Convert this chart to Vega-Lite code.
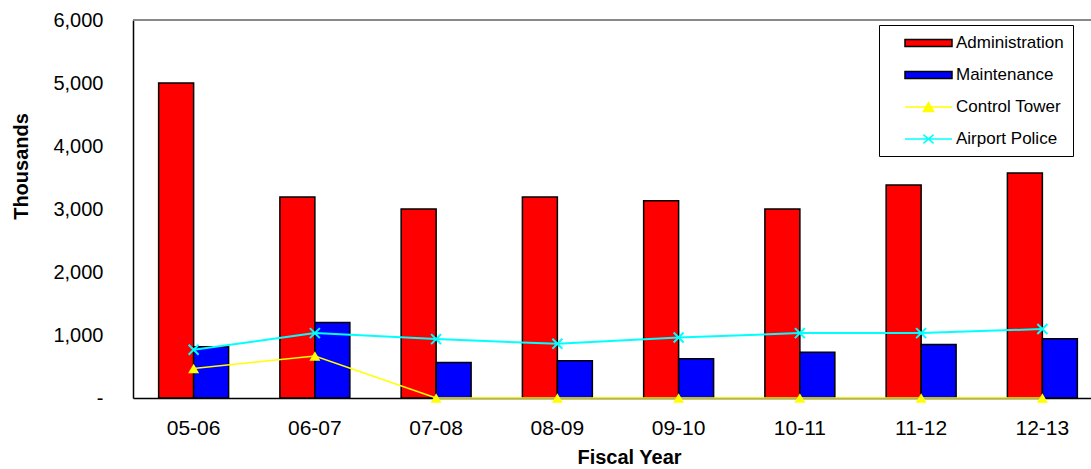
{
  "$schema": "https://vega.github.io/schema/vega-lite/v6.json",
  "autosize": "none",
  "padding": {"left": 133, "top": 20, "right": 0, "bottom": 71},
  "width": 958,
  "height": 378,
  "config": {
    "font": "Liberation Sans",
    "view": {"stroke": null},
    "axis": {"labelFont": "Liberation Sans", "titleFont": "Liberation Sans", "labelColor": "black", "titleColor": "black", "domainColor": "black", "domainWidth": 1.5, "ticks": false, "tickSize": 0, "grid": false},
    "legend": {"orient": "none", "legendX": 746, "legendY": 5, "padding": 9, "strokeColor": "black", "fillColor": "white", "symbolSize": 256, "symbolStrokeWidth": 1.5, "symbolOpacity": 1, "labelFontSize": 17, "labelFont": "Liberation Sans", "labelColor": "black", "labelOffset": 50, "rowPadding": 15}
  },
  "data": {
    "values": [
      {"year": "05-06", "series": "Administration", "value": 5000},
      {"year": "06-07", "series": "Administration", "value": 3190},
      {"year": "07-08", "series": "Administration", "value": 3000},
      {"year": "08-09", "series": "Administration", "value": 3190},
      {"year": "09-10", "series": "Administration", "value": 3130},
      {"year": "10-11", "series": "Administration", "value": 3000},
      {"year": "11-12", "series": "Administration", "value": 3380},
      {"year": "12-13", "series": "Administration", "value": 3570},
      {"year": "05-06", "series": "Maintenance", "value": 815},
      {"year": "06-07", "series": "Maintenance", "value": 1200},
      {"year": "07-08", "series": "Maintenance", "value": 565},
      {"year": "08-09", "series": "Maintenance", "value": 590},
      {"year": "09-10", "series": "Maintenance", "value": 625},
      {"year": "10-11", "series": "Maintenance", "value": 725},
      {"year": "11-12", "series": "Maintenance", "value": 850},
      {"year": "12-13", "series": "Maintenance", "value": 940},
      {"year": "05-06", "series": "Control Tower", "value": 470},
      {"year": "06-07", "series": "Control Tower", "value": 665},
      {"year": "07-08", "series": "Control Tower", "value": 0},
      {"year": "08-09", "series": "Control Tower", "value": 0},
      {"year": "09-10", "series": "Control Tower", "value": 0},
      {"year": "10-11", "series": "Control Tower", "value": 0},
      {"year": "11-12", "series": "Control Tower", "value": 0},
      {"year": "12-13", "series": "Control Tower", "value": 0},
      {"year": "05-06", "series": "Airport Police", "value": 765},
      {"year": "06-07", "series": "Airport Police", "value": 1030},
      {"year": "07-08", "series": "Airport Police", "value": 935},
      {"year": "08-09", "series": "Airport Police", "value": 860},
      {"year": "09-10", "series": "Airport Police", "value": 960},
      {"year": "10-11", "series": "Airport Police", "value": 1030},
      {"year": "11-12", "series": "Airport Police", "value": 1030},
      {"year": "12-13", "series": "Airport Police", "value": 1095}
    ]
  },
  "encoding": {
    "x": {
      "field": "year", "type": "nominal", "sort": null,
      "scale": {"range": [0, 970], "paddingInner": 0.423, "paddingOuter": 0.2115},
      "axis": {"title": "Fiscal Year", "labelAngle": 0, "labelFontSize": 21, "labelPadding": 36, "labelBaseline": "alphabetic", "titleFontSize": 20, "titleFontWeight": "bold", "titleX": 496, "titleY": 65, "titleAlign": "center", "titleBaseline": "alphabetic"}
    },
    "y": {
      "field": "value", "type": "quantitative",
      "scale": {"domain": [0, 6000], "nice": false},
      "axis": {"title": "Thousands", "values": [0, 1000, 2000, 3000, 4000, 5000, 6000], "labelExpr": "datum.value === 0 ? '-' : format(datum.value, ',')", "labelFontSize": 20, "labelPadding": 30, "titleFontSize": 20, "titleFontWeight": "bold", "titleAngle": 270, "titleX": -106, "titleY": 146, "titleAlign": "center", "titleBaseline": "alphabetic"}
    }
  },
  "layer": [
    {
      "mark": {"type": "rule", "color": "#888888", "strokeWidth": 1},
      "encoding": {"x": null, "y": {"datum": 6000}}
    },
    {
      "transform": [{"filter": "datum.series === 'Administration'"}],
      "mark": {"type": "bar", "stroke": "black", "strokeWidth": 1.5, "fill": "#FF0000"},
      "encoding": {
        "xOffset": {"field": "series", "type": "nominal", "scale": {"domain": ["Administration", "Maintenance"], "paddingInner": 0, "paddingOuter": 0}}
      }
    },
    {
      "transform": [{"filter": "datum.series === 'Maintenance'"}],
      "mark": {"type": "bar", "stroke": "black", "strokeWidth": 1.5, "fill": "#0000FF"},
      "encoding": {
        "xOffset": {"field": "series", "type": "nominal"}
      }
    },
    {
      "transform": [{"filter": "datum.series === 'Control Tower'"}],
      "mark": {"type": "line", "strokeWidth": 1.5, "color": "#FFFF00"},
      "encoding": {}
    },
    {
      "transform": [{"filter": "datum.series === 'Airport Police'"}],
      "mark": {"type": "line", "strokeWidth": 2, "color": "#00FFFF"},
      "encoding": {}
    },
    {
      "transform": [{"filter": "datum.series === 'Control Tower'"}],
      "mark": {"type": "point", "shape": "triangle-up", "filled": true, "size": 120, "opacity": 1, "color": "#FFFF00"},
      "encoding": {}
    },
    {
      "transform": [{"filter": "datum.series === 'Airport Police'"}],
      "mark": {"type": "point", "shape": "M-1,-1L1,1M-1,1L1,-1", "filled": false, "size": 100, "strokeWidth": 2, "opacity": 1, "color": "#00FFFF"},
      "encoding": {}
    },
    {
      "transform": [{"filter": "datum.year === '05-06'"}],
      "mark": {"type": "point", "opacity": 0, "size": 256, "strokeWidth": 1.5},
      "encoding": {
        "fill": {
          "field": "series", "type": "nominal",
          "scale": {"domain": ["Administration", "Maintenance", "Control Tower", "Airport Police"], "range": ["#FF0000", "#0000FF", "#FFFF00", "#00FFFF"]},
          "legend": {"title": null}
        },
        "stroke": {
          "field": "series", "type": "nominal",
          "scale": {"domain": ["Administration", "Maintenance", "Control Tower", "Airport Police"], "range": ["#000000", "#000000", "#FFFF00", "#00FFFF"]},
          "legend": {"title": null}
        },
        "shape": {
          "field": "series", "type": "nominal",
          "scale": {"domain": ["Administration", "Maintenance", "Control Tower", "Airport Police"], "range": ["M1,-0.45H6.875V0.45H1Z", "M1,-0.45H6.875V0.45H1Z", "M1,0H6.875M3.3,0.55L3.94,-0.55L4.58,0.55Z", "M1,0H6.875M3.3,-0.55L4.58,0.55M3.3,0.55L4.58,-0.55"]},
          "legend": {"title": null}
        }
      }
    }
  ]
}
